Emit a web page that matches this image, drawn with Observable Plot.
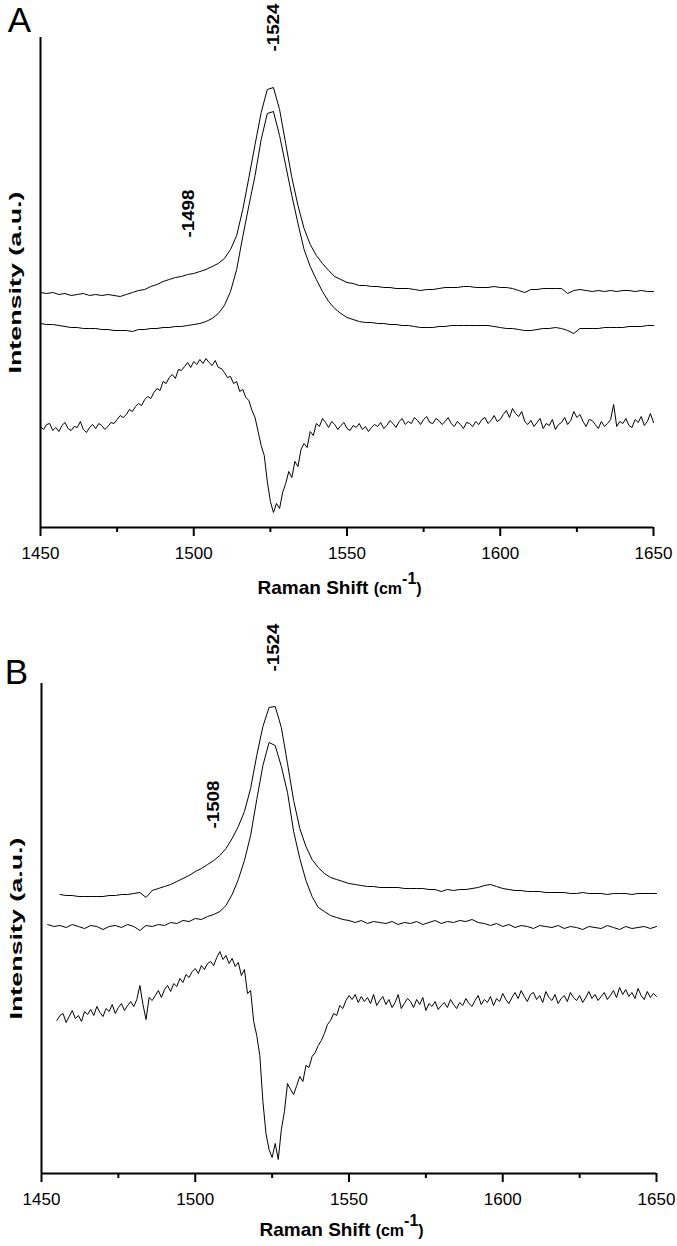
<!DOCTYPE html>
<html><head><meta charset="utf-8">
<script src="https://cdn.jsdelivr.net/npm/d3@7"></script>
<script src="https://cdn.jsdelivr.net/npm/@observablehq/plot@0.6"></script>
<style>
body{margin:0;background:#fff;width:677px;height:1246px;position:relative;overflow:hidden}
.panel{position:absolute;left:0}
</style></head><body>
<div id="a" class="panel" style="top:0"></div>
<div id="b" class="panel" style="top:600px"></div>
<script>
// ---- axis ticks ----
const xTicks = [1450, 1500, 1550, 1600, 1650];
const xMinor = [1475, 1525, 1575, 1625];

// ---- Panel A ----
// top trace, sampled every 2 cm-1 from 1450
const aTopStart = 1450, aTopStep = 2;
const aTop = [235,234,235,233,234,232,233,234,232,233,232,233,232,231,233,235,237,238,241,243,246,248,250,251,253,254,256,258,261,264,269,278,292,318,350,383,415,438,440,418,384,350,322,299,283,272,264,257,251,248,245,244,242,242,241,241,240,240,239,239,239,238,237,238,238,239,240,240,240,241,241,240,240,240,241,240,240,239,237,235,238,238,239,239,239,239,234,237,238,237,236,237,236,237,236,237,237,236,237,236,236];
// middle trace, every 2 cm-1 from 1450
const aMidStart = 1450, aMidStep = 2;
const aMid = [204,203,203,202,201,200,200,199,199,199,198,198,197,197,197,196,198,198,199,199,200,200,201,201,202,203,204,206,209,214,222,236,258,291,322,352,388,414,416,392,362,332,304,278,261,248,236,226,219,214,210,208,206,205,205,204,204,203,203,202,202,201,200,200,200,201,201,202,202,202,202,202,202,202,201,200,199,199,198,197,197,198,199,199,200,199,197,194,199,199,199,199,200,200,200,200,201,201,201,202,202];
// bottom (difference) trace, every 1 cm-1 from 1450
const aBotStart = 1450, aBotStep = 1;
const aBot = [101,98,103,104,97,100,96,102,105,99, 97,101,100,106,98,95,100,103,99,104, 102,98,101,105,104,108,112,110,113,118, 116,121,124,122,128,131,129,135,139,137, 146,144,150,153,149,158,157,161,165,160, 166,163,168,164,169,165,162,167,160,159, 155,150,151,144,146,136,138,130,127,117, 110,96,82,72,46,26,15,24,19,35, 44,56,50,66,61,78,84,80,96,92, 104,101,109,105,100,106,103,98,102,105, 99,97,102,100,104,98,101,96,100,103, 101,105,99,102,107,104,100,106,109,103, 106,104,110,107,103,108,111,105,104,109, 107,103,106,110,104,101,106,103,99,105, 104,101,106,103,108,110,104,107,112,106, 108,113,117,110,119,114,111,116,106,103, 107,101,105,109,99,104,102,108,98,103, 105,110,103,107,116,110,113,106,101,108, 107,103,99,106,101,104,108,123,101,106, 104,109,102,100,108,105,111,102,106,114, 105];
const aLabels = ["-1524", "-1498"];
const aLabelX = [1526, 1498.3];
const aLabelY = [500, 314];

// ---- Panel B ----
const bTopStart = 1456, bTopStep = 2;
const bTop = [279,278,278,277,277,277,277,277,278,278,279,279,280,281,276,283,285,287,289,292,295,298,302,305,309,313,318,325,335,347,362,385,418,447,466,467,446,410,373,345,327,314,306,300,296,294,292,290,289,288,287,287,286,286,286,286,285,285,285,285,284,284,282,284,283,284,284,285,286,288,289,287,285,284,283,283,282,282,282,281,281,281,281,280,280,281,280,280,280,279,280,280,280,279,280,280,280,280];
const bMidStart = 1452, bMidStep = 2;
const bMid = [249,247,248,246,249,247,245,248,247,244, 247,248,246,249,247,243,248,247,249,248, 251,250,253,252,255,254,257,259,262,268, 279,294,313,338,374,408,431,428,407,381, 342,315,293,277,266,262,258,256,254,253, 251,253,250,252,251,250,252,249,251,250, 252,249,251,253,250,252,251,253,252,254, 251,250,248,250,247,249,246,248,247,245, 248,247,246,248,245,247,246,244,247,246, 245,248,246,244,247,245,246,247,245,247];
const bBotStart = 1455, bBotStep = 1;
const bBot = [153,158,160,151,157,163,155,158,152,162, 159,164,158,167,161,157,165,162,169,160, 166,170,163,168,172,167,174,188,169,154, 176,173,178,183,176,184,188,182,190,187, 195,191,199,196,202,205,200,208,204,210, 212,208,216,222,214,218,210,215,207,211, 198,204,180,183,152,138,118,72,40,24, 16,30,14,44,62,90,84,79,88,97, 92,108,106,117,121,128,133,140,149,153, 160,158,168,165,173,178,174,179,171,177, 172,176,170,179,168,173,177,169,174,166, 171,179,165,170,175,172,166,174,169,176, 163,170,167,172,164,168,171,166,174,169, 165,171,168,175,170,167,173,178,169,174, 171,177,168,175,172,180,174,170,176,181, 175,183,177,172,179,181,174,178,171,182, 176,173,179,170,175,178,172,181,176,173, 178,171,176,182,175,179,173,177,181,174, 178,183,176,186,179,184,177,181,175,185, 178,174,182,176,180,177];
const bLabels = ["-1524", "-1508"];
const bLabelX = [1525.4, 1505.9];
const bLabelY = [526, 369];

const FONT = "'Liberation Sans', Arial, Helvetica, sans-serif";

function series(start, step, ys, k) {
  return ys.map((v, i) => ({x: start + i * step, y: v, k}));
}

function panel(cfg) {
  const rows = [].concat(...cfg.series.map((s, k) => series(s[0], s[1], s[2], k)));
  const labels = cfg.labels.map((t, i) => ({t, x: cfg.lx[i], y: cfg.ly[i]}));
  const svg = Plot.plot({
    width: 677, height: cfg.height,
    marginTop: cfg.mt, marginBottom: 73, marginLeft: cfg.ml, marginRight: cfg.mr,
    x: {domain: [1450, 1650]},
    y: {domain: [0, 490], axis: null},
    style: {fontFamily: FONT, fontSize: "17px", color: "black", background: "white", overflow: "visible"},
    marks: [
      Plot.axisX({ticks: xTicks, tickSize: 9, tickPadding: 10, fontSize: 17, tickFormat: d => String(d), label: null, strokeWidth: 2}),
      Plot.axisX({ticks: xMinor, tickSize: 5, tickFormat: () => "", label: null, strokeWidth: 2}),
      Plot.ruleY([0], {strokeWidth: 2}),
      Plot.ruleX([1450], {strokeWidth: 2}),
      Plot.line(rows, {x: "x", y: "y", z: "k", stroke: "black", strokeWidth: 1}),
      Plot.text(labels, {x: "x", y: "y", text: "t", rotate: -90, fontWeight: "bold", fontSize: 17}),
      Plot.text([cfg.letter], {frameAnchor: "top-left", textAnchor: "middle", lineAnchor: "middle", dx: cfg.ldx, dy: cfg.ldy, fontSize: 35, text: d => d}),
      Plot.text(["Intensity (a.u.)"], {frameAnchor: "left", textAnchor: "middle", lineAnchor: "middle", rotate: -90, dx: -25, fontWeight: "bold", fontSize: 16, text: d => d})
    ]
  });
  const s = d3.select(svg);
  s.selectAll("text").filter(function() { return this.textContent === "Intensity (a.u.)"; })
    .attr("textLength", 182).attr("lengthAdjust", "spacingAndGlyphs");
  s.selectAll("text").filter(function() { return /^-1\d{3}$/.test(this.textContent); })
    .attr("textLength", 48).attr("lengthAdjust", "spacingAndGlyphs");
  // x axis title with superscript, as one text element
  const cx = (cfg.ml + 677 - cfg.mr) / 2;
  const by = cfg.mt + 490 + cfg.ty;
  const t = s.append("text").attr("x", cx - 89).attr("y", by)
    .attr("font-weight", "bold").attr("fill", "black")
    .attr("font-family", FONT).attr("text-anchor", "start");
  t.append("tspan").attr("font-size", 19).text("Raman Shift ");
  t.append("tspan").attr("font-size", 16).text("(cm");
  t.append("tspan").attr("font-size", 16).attr("dy", -10).text("-1");
  t.append("tspan").attr("font-size", 16).attr("dy", 10).text(")");
  return svg;
}

document.getElementById("a").appendChild(panel({
  height: 600, mt: 37, ml: 40, mr: 24, letter: "A", ldx: -21, ldy: -17, ty: 67,
  series: [[aTopStart, aTopStep, aTop], [aMidStart, aMidStep, aMid], [aBotStart, aBotStep, aBot]],
  labels: aLabels, lx: aLabelX, ly: aLabelY
}));
document.getElementById("b").appendChild(panel({
  height: 646, mt: 83, ml: 41, mr: 21, letter: "B", ldx: -25, ldy: -11, ty: 63,
  series: [[bTopStart, bTopStep, bTop], [bMidStart, bMidStep, bMid], [bBotStart, bBotStep, bBot]],
  labels: bLabels, lx: bLabelX, ly: bLabelY
}));
</script>
</body></html>
